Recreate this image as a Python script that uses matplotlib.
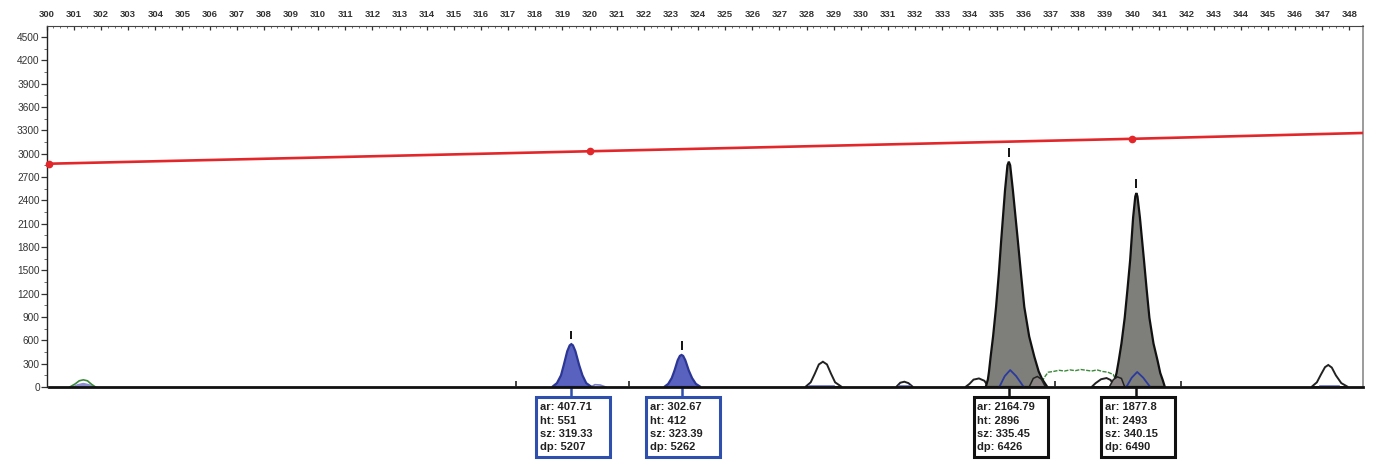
import matplotlib
matplotlib.use("Agg")
import matplotlib.pyplot as plt
from matplotlib.patches import Rectangle

plt.rcParams['font.family'] = ['Liberation Sans', 'DejaVu Sans']

# sizing curve (red)
red_x = [300.1, 320.0, 340.0, 348.5]
red_y = [2870, 3030, 3190, 3265]
red_dots = 3  # first three points carry a dot

# labelled blue peaks
blue1_x = [318.62, 318.80, 318.95, 319.05, 319.18, 319.27, 319.33, 319.39, 319.48, 319.62, 319.74, 319.88, 320.08]
blue1_y = [0, 50, 150, 280, 460, 535, 551, 535, 460, 280, 150, 50, 0]
blue2_x = [322.75, 322.90, 323.03, 323.13, 323.25, 323.33, 323.39, 323.45, 323.53, 323.66, 323.78, 323.92, 324.10]
blue2_y = [0, 40, 115, 210, 345, 400, 412, 400, 345, 210, 115, 40, 0]
blue_tail_x = [320.05, 320.20, 320.40, 320.60]
blue_tail_y = [0, 30, 25, 0]

# labelled grey peaks
grey1_x = [334.60, 334.68, 334.72, 334.78, 334.87, 334.98, 335.08, 335.17, 335.31, 335.40, 335.45,
           335.50, 335.60, 335.78, 335.90, 336.02, 336.20, 336.39, 336.55, 336.68, 336.87]
grey1_y = [0, 100, 200, 390, 650, 1030, 1450, 1890, 2530, 2850, 2896,
           2850, 2530, 1890, 1450, 1030, 650, 390, 200, 100, 0]
grey2_x = [339.25, 339.35, 339.42, 339.50, 339.60, 339.72, 339.82, 339.92, 340.03, 340.11, 340.15,
           340.19, 340.28, 340.43, 340.53, 340.63, 340.78, 340.93, 341.03, 341.12, 341.20]
grey2_y = [0, 90, 180, 340, 560, 890, 1250, 1630, 2180, 2450, 2493,
           2450, 2180, 1630, 1250, 890, 560, 340, 180, 90, 0]

# small grey shoulders
shoulder1_x = [336.20, 336.35, 336.50, 336.65, 336.80]
shoulder1_y = [0, 110, 135, 100, 0]
shoulder2_x = [339.15, 339.30, 339.45, 339.60, 339.72]
shoulder2_y = [0, 95, 130, 110, 0]

# blue traces under the grey peaks
inner1_x = [335.10, 335.30, 335.50, 335.72, 336.00]
inner1_y = [0, 140, 218, 140, 0]
inner2_x = [339.78, 339.98, 340.18, 340.40, 340.66]
inner2_y = [0, 120, 193, 120, 0]

# unlabelled white peaks
white_peaks = [
    ([327.95, 328.15, 328.30, 328.45, 328.60, 328.75, 328.90, 329.05, 329.30],
     [0, 60, 170, 290, 325, 290, 170, 60, 0]),
    ([331.30, 331.45, 331.60, 331.75, 331.92],
     [0, 55, 68, 50, 0]),
    ([346.60, 346.80, 346.95, 347.10, 347.22, 347.35, 347.50, 347.70, 347.95],
     [0, 60, 160, 255, 283, 250, 150, 50, 0]),
    ([333.85, 334.00, 334.15, 334.35, 334.55, 334.70],
     [0, 40, 95, 110, 80, 0]),
    ([338.50, 338.65, 338.85, 339.05, 339.20, 339.35],
     [0, 50, 100, 115, 90, 0]),
]
base_blue = [(328.1, 329.0), (346.9, 347.6), (331.4, 331.8)]

# green trace
green1_x = [300.85, 301.05, 301.20, 301.35, 301.50, 301.65, 301.80]
green1_y = [0, 40, 80, 92, 80, 35, 0]
green_hump_x = [300.95, 301.15, 301.35, 301.55, 301.75]
green_hump_y = [0, 30, 45, 30, 0]
green2_x = [336.60, 336.75, 336.90, 337.10, 337.30, 337.50, 337.70, 337.90, 338.10,
            338.30, 338.50, 338.70, 338.90, 339.10, 339.30, 339.50]
green2_y = [0, 120, 190, 200, 215, 205, 220, 210, 225, 215, 205, 220, 200, 190, 160, 0]

# small marks on the baseline
bin_marks = [317.3, 321.45, 337.15, 341.8]
bin_mark_h = 80

# peak labels
label_sz = [319.33, 323.39, 335.45, 340.15]
label_ht = [551, 412, 2896, 2493]
label_text = [
    ["ar: 407.71", "ht: 551", "sz: 319.33", "dp: 5207"],
    ["ar: 302.67", "ht: 412", "sz: 323.39", "dp: 5262"],
    ["ar: 2164.79", "ht: 2896", "sz: 335.45", "dp: 6426"],
    ["ar: 1877.8", "ht: 2493", "sz: 340.15", "dp: 6490"],
]
label_color = ["#2f4fae", "#2f4fae", "#111111", "#111111"]

x_ticks = list(range(300, 349))
y_ticks = list(range(0, 4501, 300))

fig = plt.figure(figsize=(13.99, 4.74), dpi=100)
ax = fig.add_axes([46.7 / 1399, 87 / 474, (1363 - 46.7) / 1399, 361 / 474])
ax.set_xlim(300.1, 348.5)
ax.set_ylim(0, 4640)

# red sizing line
ax.plot(red_x, red_y, color="#e2262a", lw=1.9, zorder=3)
ax.plot(red_x[:red_dots], red_y[:red_dots], "o", color="#e2262a", ms=4.5, zorder=3,
        clip_on=False)

# green traces
ax.fill(green_hump_x, green_hump_y, color="#8c8fd0", zorder=2)
ax.plot(green1_x, green1_y, color="#3a8a3a", lw=1.2, zorder=2)
ax.plot(green2_x, green2_y, color="#3a8a3a", lw=1.0, ls=(0, (3, 1)), zorder=2)

# white peaks
for px, py in white_peaks:
    ax.fill(px, py, facecolor="white", edgecolor="#222222", lw=1.4, zorder=4)
for a, b in base_blue:
    ax.plot([a, b], [12, 12], color="#6a6fc8", lw=1.2, zorder=5)

# blue peaks
ax.plot(blue_tail_x, blue_tail_y, color="#7a7fc8", lw=1.2, zorder=4)
for px, py in [(blue1_x, blue1_y), (blue2_x, blue2_y)]:
    ax.fill(px, py, facecolor="#5a62c0", edgecolor="#2c3694", lw=1.6, zorder=5)

# grey peaks
for px, py in [(grey1_x, grey1_y), (grey2_x, grey2_y)]:
    ax.fill(px, py, facecolor="#7e7e7a", edgecolor="#111111", lw=1.6, zorder=5)
for px, py in [(shoulder1_x, shoulder1_y), (shoulder2_x, shoulder2_y)]:
    ax.fill(px, py, facecolor="#8c8686", edgecolor="#222222", lw=1.1, zorder=6)
for px, py in [(inner1_x, inner1_y), (inner2_x, inner2_y)]:
    ax.plot(px, py, color="#2b3a9e", lw=1.3, zorder=7)

# baseline
ax.plot([300.1, 348.5], [0, 0], color="#111111", lw=2, zorder=8, clip_on=False)
ax.vlines(bin_marks, 0, bin_mark_h, color="#222222", lw=1.2, zorder=8)

# peak markers and label boxes
trans = ax.get_xaxis_transform()
for sz, ht, lines, col in zip(label_sz, label_ht, label_text, label_color):
    ax.vlines(sz, ht + 60, ht + 175, color="#111111", lw=1.4, zorder=9)
    ax.plot([sz, sz], [0, -0.029], color=col, lw=1.8, transform=trans, clip_on=False)
    ax.add_patch(Rectangle((sz - 1.29, -0.193), 2.72, 0.164, transform=trans,
                           facecolor="white", edgecolor=col, lw=2.2, clip_on=False))
    for i, line in enumerate(lines):
        ax.text(sz - 1.29 + 0.12, -0.0562 - i * 0.0368, line, transform=trans,
                fontsize=8, fontweight="bold", color="#222222", va="center",
                ha="left", clip_on=False)

# axes styling
ax.spines["bottom"].set_visible(False)
ax.spines["left"].set_color("#222222")
ax.spines["left"].set_linewidth(1.0)
ax.spines["top"].set_color("#444444")
ax.spines["top"].set_linewidth(0.8)
ax.spines["right"].set_color("#8a8a8a")
ax.spines["right"].set_linewidth(1.2)

ax.xaxis.tick_top()
ax.set_xticks(x_ticks)
ax.set_xticklabels([str(v) for v in x_ticks], fontsize=6.8, fontweight="bold",
                   color="#222222")
ax.set_xticks([v + 0.25 * k for v in x_ticks[:-1] for k in (1, 2, 3)], minor=True)
ax.tick_params(axis="x", which="major", direction="in", length=3, width=0.9, pad=5,
               top=True, bottom=False, colors="#333333")
ax.tick_params(axis="x", which="minor", direction="in", length=1.5, width=0.6,
               top=True, bottom=False, colors="#555555")

ax.set_yticks(y_ticks)
ax.set_yticklabels([str(v) for v in y_ticks], fontsize=7.3, color="#444444")
ax.set_yticks([v + 150 for v in y_ticks[:-1]], minor=True)
ax.tick_params(axis="y", which="major", direction="out", length=4, width=0.9, pad=1,
               colors="#333333")
ax.tick_params(axis="y", which="minor", direction="out", length=2, width=0.6,
               colors="#555555")

fig.savefig("out.png", dpi=100)
